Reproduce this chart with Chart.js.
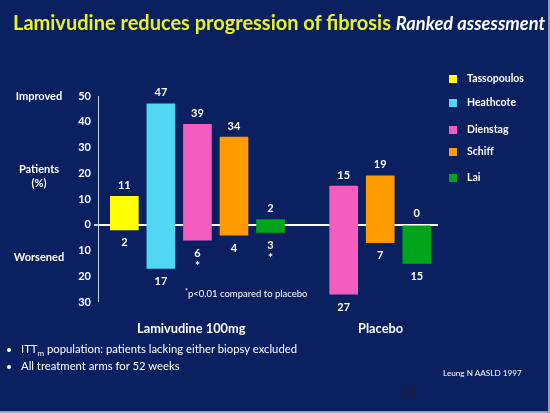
<!DOCTYPE html>
<html>
<head>
<meta charset="utf-8">
<script src="https://cdn.jsdelivr.net/npm/chart.js@4/dist/chart.umd.min.js"></script>
<style>
  html, body { margin: 0; padding: 0; }
  body { width: 550px; height: 413px; overflow: hidden; background: #0a2060; font-family: Lato, "Open Sans", sans-serif; }
  #slide { position: relative; width: 548px; height: 411px; background: #0a2060; border-right: 2px solid #8ea2b8; border-bottom: 2px solid #8ea2b8; }
  #chartBox { position: absolute; left: 0; top: 0; width: 548px; height: 411px; }
  .t { position: absolute; white-space: nowrap; color: #fff; }
  #title { left: 13px; top: 10px; font-size: 20px; font-weight: bold; color: #eaf02a; }
  #title i { color: #fff; font-size: 18.3px; font-weight: bold; }
  .side { font-size: 11px; font-weight: bold; text-align: center; width: 80px; left: -1px; }
  .grp { font-size: 12.8px; font-weight: bold; top: 320px; }
  .leg { position: absolute; left: 449px; font-size: 10.5px; font-weight: bold; color: #fff; }
  .leg span { display: inline-block; width: 8px; height: 8px; margin-right: 10px; vertical-align: -1px; }
  ul { position: absolute; left: 3px; top: 340px; margin: 0; padding-left: 18px; color: #fff; font-size: 11.3px; line-height: 17px; }
  sub { line-height: 0; font-size: 8px; }
</style>
</head>
<body>
<div id="slide">
  <div id="chartBox"><canvas id="myChart"></canvas></div>
  <div class="t" id="title">Lamivudine reduces progression of fibrosis <i>Ranked assessment</i></div>
  <div class="t side" style="top:89px">Improved</div>
  <div class="t side" style="top:162px;line-height:14px">Patients<br>(%)</div>
  <div class="t side" style="top:250px">Worsened</div>
  <div class="t grp" style="left:137px">Lamivudine 100mg</div>
  <div class="t grp" style="left:358px">Placebo</div>
  <div class="t" style="left:185px;top:288px;font-size:9.5px"><span style="font-size:7px;position:relative;top:-3px">*</span>p&lt;0.01 compared to placebo</div>
  <ul>
    <li>ITT<sub>m</sub> population: patients lacking either biopsy excluded</li>
    <li>All treatment arms for 52 weeks</li>
  </ul>
  <div class="t" style="left:443px;top:368px;font-size:8.2px">Leung N AASLD 1997</div>
  <div class="t" style="left:401px;top:384px;font-size:14px;color:#1a2134;font-family:Arial,'Liberation Sans',sans-serif">19</div>
  <div id="legend"></div>
</div>
<script>
// studies in plotting order, blank slot separates the two groups
var studies = ['Tassopoulos', 'Heathcote', 'Dienstag', 'Schiff', 'Lai', '', 'Dienstag', 'Schiff', 'Lai'];
var improved = [11, 47, 39, 34, 2, null, 15, 19, 0];
var worsened = [2, 17, 6, 4, 3, null, 27, 7, 15];
var significant = [false, false, true, false, true, false, false, false, false];
var yTicks = [50, 40, 30, 20, 10, 0, -10, -20, -30];

var colorOf = {
	Tassopoulos: '#ffff00',
	Heathcote: '#4fd6f2',
	Dienstag: '#f55cbf',
	Schiff: '#ff9a00',
	Lai: '#00a51c'
};
var legendNames = ['Tassopoulos', 'Heathcote', 'Dienstag', 'Schiff', 'Lai'];
var legendTops = [72, 96, 123, 145, 171];

// legend
var lg = '';
for (var i in legendNames) {
	lg += '<div class="leg" style="top:' + legendTops[i] + 'px"><span style="background:' + colorOf[legendNames[i]] + '"></span>' + legendNames[i] + '</div>';
}
document.getElementById('legend').innerHTML = lg;

var points = [];
var colors = [];
for (var i = 0; i < studies.length; i++) {
	if (improved[i] === null) continue;
	points.push({ x: i, y: [-worsened[i], improved[i]] });
	colors.push(colorOf[studies[i]]);
}

var valueLabels = {
	id: 'valueLabels',
	afterDatasetsDraw: function(chart) {
		var c = chart.ctx;
		var xs = chart.scales.x, ys = chart.scales.y;
		c.save();
		c.fillStyle = '#fff';
		c.textAlign = 'center';
		c.textBaseline = 'middle';
		for (var i = 0; i < studies.length; i++) {
			if (improved[i] === null) continue;
			var px = xs.getPixelForValue(i);
			c.font = 'bold 11px Lato, sans-serif';
			c.fillText(improved[i], px, ys.getPixelForValue(improved[i]) - 11);
			var by = ys.getPixelForValue(-worsened[i]) + 13;
			c.fillText(worsened[i], px, by);
			if (significant[i]) {
				c.font = 'bold 12px Lato, sans-serif';
				c.fillText('*', px, by + 13);
			}
		}
		c.restore();
	}
};

var ctx = document.getElementById('myChart');
var barGraph = new Chart(ctx, {
	type: 'bar',
	data: {
		datasets: [{
			data: points,
			backgroundColor: colors,
			borderWidth: 0,
			barThickness: 28
		}]
	},
	options: {
		responsive: true,
		maintainAspectRatio: false,
		animation: false,
		layout: { padding: { left: 68, top: 96, right: 110, bottom: 109 } },
		plugins: { legend: { display: false }, tooltip: { enabled: false } },
		scales: {
			x: {
				type: 'linear',
				min: -0.72,
				max: 8.58,
				offset: false,
				display: false
			},
			y: {
				min: -30,
				max: 50,
				afterFit: function(s) { s.width = 30; },
				afterBuildTicks: function(s) {
					s.ticks = yTicks.map(function(v) { return { value: v }; });
				},
				border: { display: true, color: '#c9d2e0', width: 1 },
				grid: {
					drawOnChartArea: true,
					tickLength: 4,
					tickColor: '#c9d2e0',
					lineWidth: function(c) { return c.tick && c.tick.value === 0 ? 2 : 0; },
					color: function(c) { return c.tick && c.tick.value === 0 ? '#ffffff' : 'rgba(0,0,0,0)'; }
				},
				ticks: {
					color: '#fff',
					padding: 3,
					font: { family: 'Lato', size: 11, weight: 'bold' },
					callback: function(v) { return Math.abs(v); }
				}
			}
		}
	},
	plugins: [valueLabels]
});
</script>
</body>
</html>
